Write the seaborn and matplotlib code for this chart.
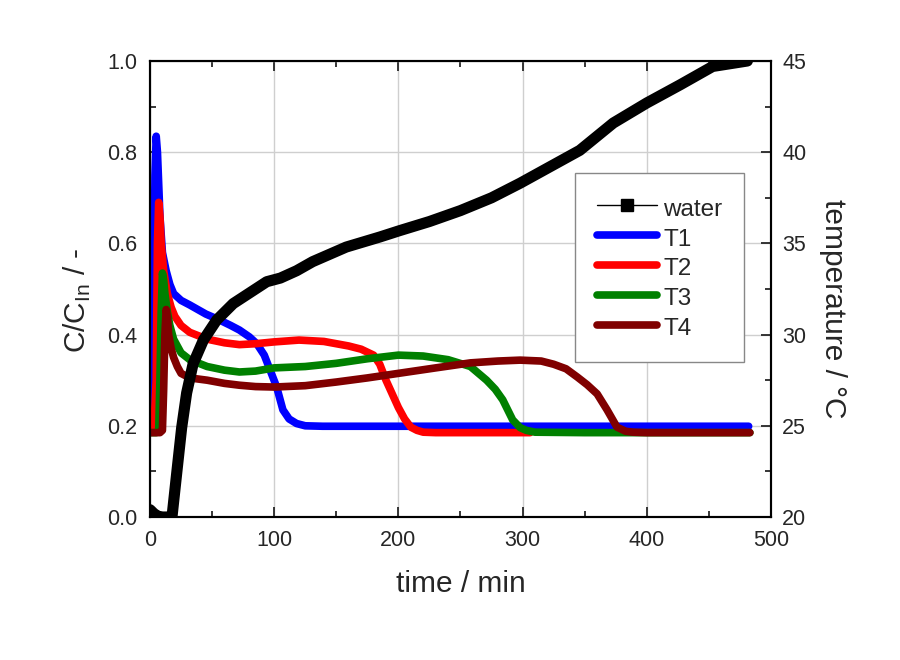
import pandas as pd
import numpy as np
from matplotlib import pyplot as plt
from matplotlib.lines import Line2D
import seaborn as sns

sns.set_style("white")
plt.rcParams["font.family"] = ["Liberation Sans", "DejaVu Sans"]

# water temperature (right axis, degC)
water_time = [0, 3, 6, 10, 14, 17.7, 21.5, 25.5, 29.5, 34.7, 43, 53.7, 67, 80.5, 94, 105,
              118, 131, 158, 185, 201, 225, 250, 275, 298, 322, 346, 373, 400, 427, 453, 481]
water_temp = [20.4, 20.2, 20.05, 20.0, 20.0, 20.0, 22.4, 24.9, 26.8, 28.4, 29.7, 30.8,
              31.7, 32.3, 32.9, 33.1, 33.5, 34.0, 34.8, 35.35, 35.7, 36.2, 36.8, 37.5,
              38.3, 39.2, 40.1, 41.6, 42.7, 43.7, 44.7, 45.0]

# C/C_In curves (left axis)
t1_time = [0, 2, 3, 4, 5, 6, 8, 10, 13, 16, 19, 25, 32, 45, 56, 65, 72, 80, 86, 92, 97,
           102, 107, 112, 118, 125, 139, 200, 300, 400, 482]
t1_c = [0.20, 0.21, 0.45, 0.75, 0.835, 0.80, 0.66, 0.58, 0.54, 0.51, 0.49, 0.475, 0.465,
        0.445, 0.432, 0.42, 0.41, 0.395, 0.38, 0.355, 0.32, 0.285, 0.235, 0.215, 0.205,
        0.20, 0.199, 0.199, 0.199, 0.199, 0.199]

t2_time = [0, 3, 5, 6, 7, 8, 9, 11, 14, 17, 20, 25, 32, 46, 60, 72, 85, 100, 120, 140,
           160, 170, 180, 185, 190, 195, 200, 205, 210, 215, 220, 230, 260, 306]
t2_c = [0.19, 0.19, 0.30, 0.60, 0.69, 0.66, 0.60, 0.54, 0.49, 0.46, 0.44, 0.42, 0.405,
        0.39, 0.382, 0.378, 0.38, 0.384, 0.388, 0.385, 0.375, 0.368, 0.355, 0.335, 0.30,
        0.27, 0.24, 0.215, 0.197, 0.19, 0.186, 0.185, 0.185, 0.185]

t3_time = [0, 5, 7, 8, 9, 10, 11, 12, 14, 16, 19, 25, 32, 46, 60, 72, 85, 100, 125, 150,
           175, 200, 220, 240, 258, 271, 278, 284, 292, 298, 303, 310, 350, 400, 483]
t3_c = [0.185, 0.185, 0.19, 0.30, 0.45, 0.535, 0.52, 0.49, 0.45, 0.42, 0.39, 0.36, 0.345,
        0.33, 0.322, 0.318, 0.32, 0.327, 0.33, 0.337, 0.347, 0.355, 0.353, 0.345, 0.33,
        0.30, 0.28, 0.257, 0.213, 0.196, 0.19, 0.186, 0.185, 0.185, 0.185]

t4_time = [0, 8, 10, 11, 12, 13, 14, 15, 17, 19, 22, 25, 32, 46, 60, 72, 85, 100, 125,
           150, 175, 200, 230, 258, 280, 298, 315, 325, 335, 344, 352, 360, 368, 376,
           383, 389, 400, 450, 483]
t4_c = [0.185, 0.185, 0.19, 0.28, 0.40, 0.455, 0.44, 0.40, 0.37, 0.35, 0.33, 0.315, 0.305,
        0.30, 0.293, 0.289, 0.286, 0.285, 0.288, 0.296, 0.305, 0.315, 0.327, 0.338, 0.342,
        0.344, 0.342, 0.335, 0.325, 0.307, 0.29, 0.27, 0.235, 0.197, 0.188, 0.186, 0.185,
        0.185, 0.185]

series = [("T1", t1_time, t1_c, "#0000ff"),
          ("T2", t2_time, t2_c, "#ff0000"),
          ("T3", t3_time, t3_c, "#008000"),
          ("T4", t4_time, t4_c, "#800000")]

fig = plt.figure(figsize=(9, 6.6), dpi=100)
ax = fig.add_axes([150 / 900, 1 - 517 / 660, 621 / 900, 456 / 660])

for name, tt, cc, col in series:
    sns.lineplot(x=tt, y=cc, ax=ax, color=col, lw=5.5, solid_capstyle="round",
                 sort=False, legend=False)

ax.set_xlim(0, 500)
ax.set_ylim(0, 1.0)
ax.set_xticks([0, 100, 200, 300, 400, 500])
ax.set_xticks(np.arange(50, 500, 100), minor=True)
ax.set_yticks([0.0, 0.2, 0.4, 0.6, 0.8, 1.0])
ax.set_yticks(np.arange(0.1, 1.0, 0.2), minor=True)
ax.set_yticklabels(["0.0", "0.2", "0.4", "0.6", "0.8", "1.0"])
ax.grid(True, which="major", color="#cfcfcf", lw=1)
ax.tick_params(which="both", direction="in", top=True, right=False, left=True, bottom=True,
               width=1.3, labelsize=15.5, pad=9)
ax.tick_params(which="major", length=7)
ax.tick_params(which="minor", length=4)
for s in ax.spines.values():
    s.set_color("black")
    s.set_linewidth(1.5)
ax.set_xlabel("time / min", fontsize=21.5, labelpad=14)
ax.set_ylabel("C/C$_{\\mathregular{In}}$ / -", fontsize=21.5)
ax.yaxis.set_label_coords(-0.092, 0.476)

ax2 = ax.twinx()
sns.lineplot(x=water_time, y=water_temp, ax=ax2, color="black", lw=8,
             sort=False, legend=False)
ax2.set_ylim(20, 45)
ax2.set_yticks([20, 25, 30, 35, 40, 45])
ax2.set_yticks(np.arange(22.5, 45, 5), minor=True)
ax2.tick_params(which="both", direction="in", right=True, width=1.3, labelsize=15.5, pad=8)
ax2.tick_params(which="major", length=7)
ax2.tick_params(which="minor", length=4)
ax2.set_ylabel("temperature / °C", fontsize=21.5, rotation=-90)
ax2.yaxis.set_label_coords(1.123, 0.456)
for s in ax2.spines.values():
    s.set_color("black")
    s.set_linewidth(1.5)

handles = [Line2D([], [], color="black", lw=1, marker="s", markersize=9)]
labels = ["water"]
for name, tt, cc, col in series:
    handles.append(Line2D([], [], color=col, lw=5.5, solid_capstyle="round"))
    labels.append(name)
leg = ax2.legend(handles, labels, loc="upper left", bbox_to_anchor=(0.684, 0.754),
                 borderaxespad=0, fontsize=17.5, frameon=True, fancybox=False,
                 framealpha=1, edgecolor="#888888", handlelength=2.5, handletextpad=0.25,
                 handleheight=1.2, labelspacing=0.17, borderpad=0.9, numpoints=1)
leg.get_frame().set_linewidth(1)

fig.savefig("out.png", dpi=100)
